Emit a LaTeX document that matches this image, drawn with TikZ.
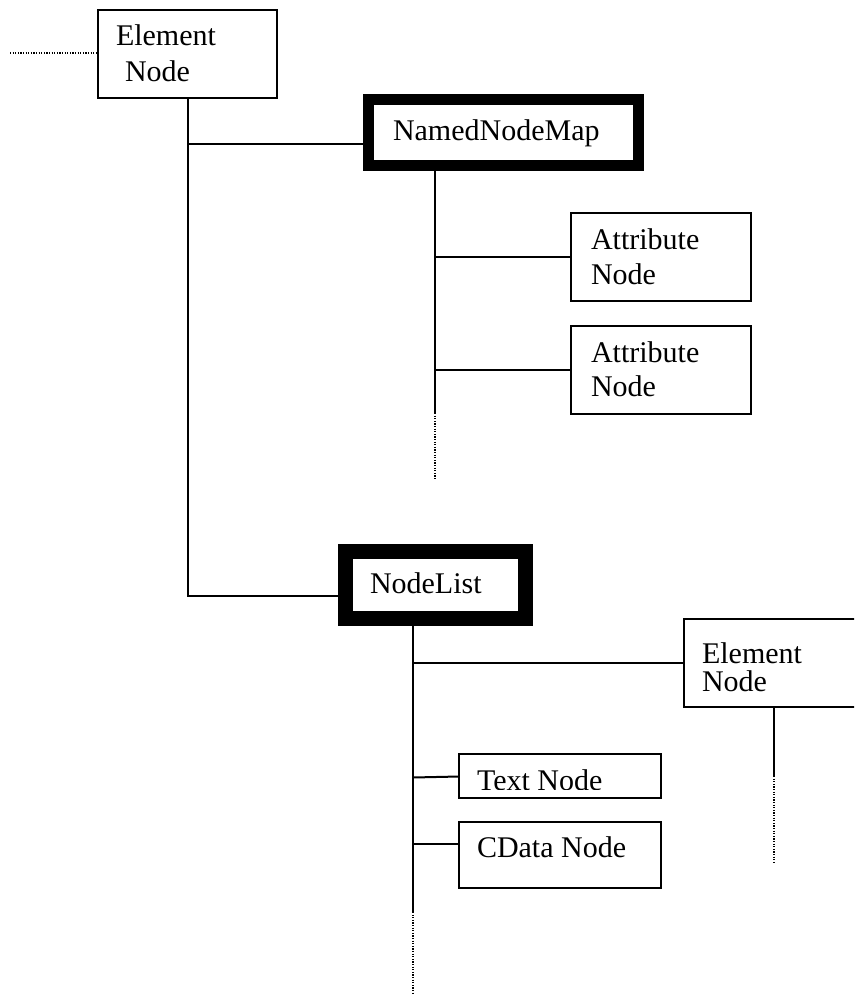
\documentclass[tikz,border=0pt]{standalone}
\usepackage{fontspec}
\setmainfont{Liberation Serif}
\usetikzlibrary{calc}
\begin{document}
\begin{tikzpicture}[x=1pt,y=-1pt,
  box/.style={draw,line width=2pt,rectangle,inner sep=0pt,outer sep=0pt,anchor=north west},
  lbl/.style={inner sep=0pt,outer sep=0pt,anchor=base west,font=\fontsize{30}{36}\selectfont},
  conn/.style={line width=2pt},
  dots/.style={line width=1.5pt,dash pattern=on 1.2pt off 1.4pt}]
\clip (0,0) rectangle (854,995);
\fill[white] (0,0) rectangle (854,995);
% boxes
\node[box,minimum width=179pt,minimum height=88pt] (elem1) at (98,10) {};
\node[box,line width=11pt,minimum width=270pt,minimum height=66pt] (nnm) at (368.5,100) {};
\node[box,minimum width=180pt,minimum height=88pt] (attr1) at (571,213) {};
\node[box,minimum width=180pt,minimum height=88pt] (attr2) at (571,326) {};
\node[box,line width=15pt,minimum width=180pt,minimum height=67pt] (nlist) at (345.5,551) {};
\node[box,minimum width=210pt,minimum height=88pt] (elem2) at (684,619) {};
\node[box,minimum width=202pt,minimum height=44pt] (textn) at (459,754) {};
\node[box,minimum width=202pt,minimum height=66pt] (cdata) at (459,822) {};
% labels
\node[lbl] (t1a) at (116,46) {Element};
\node[lbl] (t1b) at (125,82) {Node};
\node[lbl] (t2) at (393,141) {NamedNodeMap};
\node[lbl] (t3a) at (591,249) {Attribute};
\node[lbl] (t3b) at (591,284) {Node};
\node[lbl] (t4a) at (591,362) {Attribute};
\node[lbl] (t4b) at (591,396) {Node};
\node[lbl] (t5) at (370,593) {NodeList};
\node[lbl] (t6a) at (702,663) {Element};
\node[lbl] (t6b) at (702,691) {Node};
\begin{scope}
\clip (459,754) rectangle (661,789);
\node[lbl] (t7) at (477,790) {Text Node};
\end{scope}
\node[lbl] (t8) at (477,857) {CData Node};
% coordinates
\coordinate (d0) at (10,53);
\coordinate (j1) at (187.5,144);
\coordinate (j2) at (187.5,596);
\coordinate (a0) at (435,166);
\coordinate (a1) at (435,413);
\coordinate (a2) at (435,479);
\coordinate (b0) at (413,618);
\coordinate (b1) at (413,912);
\coordinate (b2) at (413,995);
\coordinate (cj) at (459,844);
\coordinate (e0) at (774,707);
\coordinate (e1) at (774,776);
\coordinate (e2) at (774,863);
% connectors
\draw[dots] (d0) -- (d0 -| elem1.west);
\draw[conn] (elem1.south) -- (j2) -- (j2 -| nlist.west);
\draw[conn] (j1) -- (j1 -| nnm.west);
\draw[conn] (a0) -- (a1);
\draw[dots] (a1) -- (a2);
\draw[conn] (attr1.west -| a0) -- (attr1.west);
\draw[conn] (attr2.west -| a0) -- (attr2.west);
\draw[conn] (b0) -- (b1);
\draw[dots] (b1) -- (b2);
\draw[conn] (elem2.west -| b0) -- (elem2.west);
\draw[conn] ($(textn.west -| b0)+(0,1.5)$) -- ($(textn.west)+(0,0.5)$);
\draw[conn] (cj -| b0) -- (cj);
\draw[conn] (e0) -- (e1);
\draw[dots] (e1) -- (e2);
\end{tikzpicture}
\end{document}
